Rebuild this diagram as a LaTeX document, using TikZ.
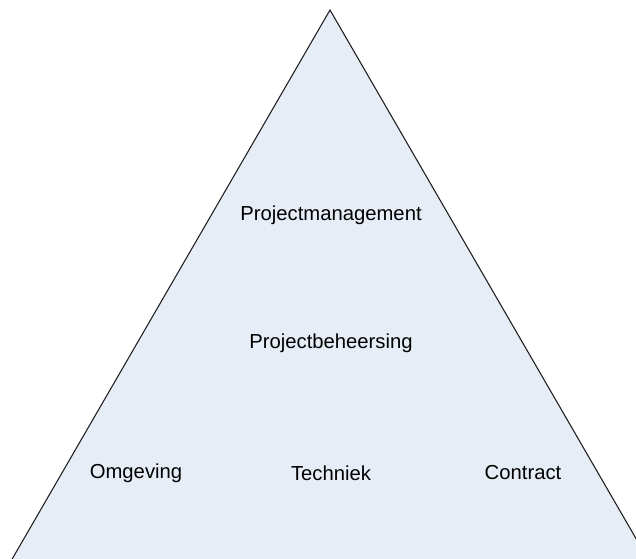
\documentclass[tikz,border=0pt]{standalone}
\usepackage{fontspec}
\setmainfont{Liberation Sans}
\usetikzlibrary{positioning, calc}
\definecolor{pyramidfill}{RGB}{231, 237, 247}
\definecolor{pyramidline}{RGB}{30, 30, 30}

\begin{document}
\begin{tikzpicture}[
    x=0.75pt, y=-0.75pt, % work in pixel units, y pointing down
    layer/.style={ % Style for the labels inside the pyramid
        font=\fontsize{15.2}{18}\selectfont,
        text=black,
        inner sep=1pt
    },
    pyramid/.style={
        fill=pyramidfill,
        draw=pyramidline,
        line width=0.8pt,
        line join=miter
    }
]

% Fixed frame, the pyramid runs off the bottom and right edge
\useasboundingbox (0,0) rectangle (636,559);
\clip (0,0) rectangle (636,559);

% Corners of the pyramid
\coordinate (top) at (330,10);
\coordinate (left) at ($(top)+(-330,570)$);
\coordinate (right) at ($(top)+(330,570)$);

\filldraw[pyramid] (top) -- (right) -- (left) -- cycle;

% Labels from top to bottom
\node[layer] (management) at (331,215) {Projectmanagement};
\node[layer] (beheersing) at (331,343) {Projectbeheersing};
\node[layer] (techniek) at (331,473) {Techniek};
\node[layer] (omgeving) at (136,473) {Omgeving};
\node[layer] (contract) at (523,473) {Contract};

\end{tikzpicture}
\end{document}
